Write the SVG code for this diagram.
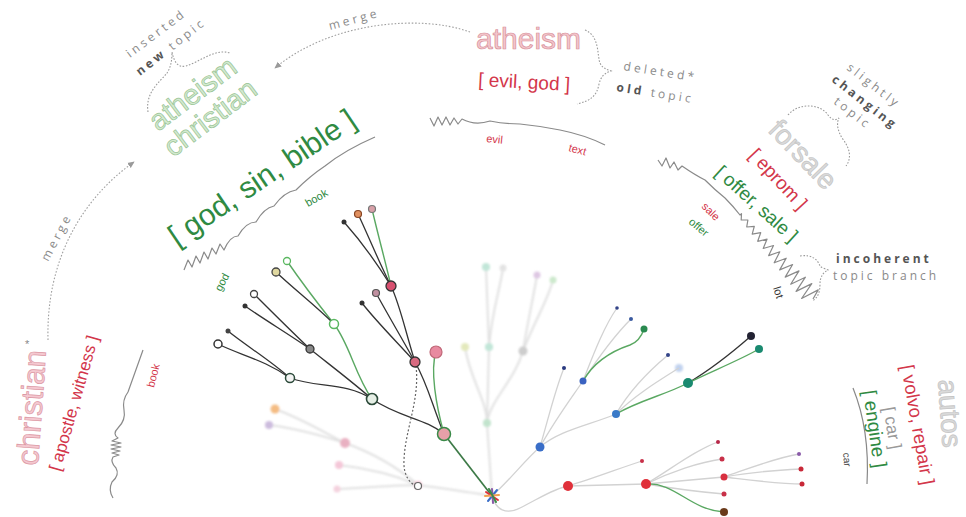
<svg xmlns="http://www.w3.org/2000/svg" width="966" height="517" viewBox="0 0 966 517">
<defs>
<style>
text{font-family:"Liberation Sans",Arial,sans-serif}
.ann{font-family:"Open Sans","Liberation Sans",sans-serif;font-size:12px;letter-spacing:3.2px;fill:#8a8a8a}
.annb{font-weight:bold;fill:#555}
.brace{fill:none;stroke:#9a9a9a;stroke-width:1.1;stroke-dasharray:1.6 1.6}
.mrg{fill:none;stroke:#a0a0a0;stroke-width:1.1;stroke-dasharray:1.6 1.8}
.wave{fill:none;stroke:#8a8a8a;stroke-width:1.2;stroke-linejoin:round}
.red{fill:#d3364a}
.grn{fill:#2f8a42}
.small{font-size:11px}
.blk{fill:none;stroke:#333;stroke-width:1.3}
.gl{fill:none;stroke:#5aa862;stroke-width:1.4}
.lt{fill:none;stroke:#d2d2d2;stroke-width:1.3}
.fd{fill:none;stroke:#d4d4d4;stroke-width:2}
</style>
<marker id="arr" viewBox="0 0 10 10" refX="8" refY="5" markerWidth="7" markerHeight="7" orient="auto">
<path d="M0,1 L9,5 L0,9 z" fill="#9a9a9a"/>
</marker>
<filter id="blur" x="-20%" y="-20%" width="140%" height="140%"><feGaussianBlur stdDeviation="1.3"/></filter>
</defs>
<rect width="966" height="517" fill="#fff"/>

<!-- merge connectors -->
<g id="connectors-merge">
<path class="mrg" d="M470,32 C 420,14 330,22 275,68" marker-end="url(#arr)"/>
<path class="mrg" d="M48,340 C 46,262 80,200 134,162" marker-end="url(#arr)"/>
</g>

<!-- annotations -->
<g id="ann-merge-top"><text class="ann" transform="translate(330,30) rotate(-15)">merge</text></g>
<g id="ann-merge-left"><text class="ann" transform="translate(48,262) rotate(-62)">merge</text></g>

<g id="topic-atheism-old">
<text transform="translate(476,49)" font-size="30" fill="#f3c6cc" stroke="#d8909a" stroke-width="0.7">atheism</text>
<text class="red" transform="translate(478,86) rotate(3)" font-size="19">[ evil, god ]</text>
<path class="brace" d="M585,30 C 600,36 597,56 600,63 C 602,68 606,69 611,71 C 605,73 601,76 599,84 C 597,96 590,101 577,104"/>
<text class="ann" transform="translate(623,70) rotate(9)">deleted*</text>
<text class="ann" transform="translate(616,91) rotate(9)"><tspan class="annb">old</tspan> topic</text>
</g>

<g id="topic-inserted">
<text class="ann" transform="translate(130,58) rotate(-37)">inserted</text>
<text class="ann" transform="translate(140,76) rotate(-38)"><tspan class="annb">new</tspan> topic</text>
<path class="brace" d="M148,112 C 145,92 160,82 167,73 C 171,67 172,60 172,52 C 174,62 178,68 186,66 C 200,62 215,48 230,53"/>
<text transform="translate(158,132) rotate(-37)" font-size="29" fill="#d4ead0" stroke="#98c494" stroke-width="0.7">atheism</text>
<text transform="translate(173,158) rotate(-37)" font-size="29" fill="#d4ead0" stroke="#98c494" stroke-width="0.7">christian</text>
</g>

<g id="label-god-sin-bible">
<text class="grn" transform="translate(177,247) rotate(-34)" font-size="30">[ god, sin, bible ]</text>
<path class="wave" d="M184,270 L188,260 L192,267 L196,256 L200,263 L204,252 L208,259 L212,248 L216,254 L220,244 L224,250 Q 230,236 238,236 Q 246,222 256,222 Q 264,208 274,206 Q 284,192 296,190 Q 310,176 325,166 Q 345,150 375,137"/>
<text class="grn small" transform="translate(308,207) rotate(-30)">book</text>
<text class="grn small" transform="translate(221,292) rotate(-62)">god</text>
</g>

<g id="label-evil-text">
<path class="wave" d="M430,118 L434,126 L438,117 L442,125 L446,117 L450,125 L454,118 L458,124 L462,119 Q 475,126 490,121 Q 505,124 520,124 Q 540,126 560,130 Q 585,135 605,145"/>
<text class="red small" transform="translate(486,142) rotate(6)">evil</text>
<text class="red small" transform="translate(568,151) rotate(15)">text</text>
</g>

<g id="topic-forsale">
<text transform="translate(767,131) rotate(46)" font-size="28" fill="#dadada" stroke="#c4c4c4" stroke-width="0.7">forsale</text>
<path class="brace" d="M788,115 C 800,101 822,105 828,115 C 832,120 835,121 839,118 C 836,124 838,131 842,138 C 850,148 852,158 846,166"/>
<text class="ann" transform="translate(846,69) rotate(38)">slightly</text>
<text class="ann annb" transform="translate(831,81) rotate(38)">changing</text>
<text class="ann" transform="translate(833,103) rotate(38)">topic</text>
<text class="red" transform="translate(748,156) rotate(47)" font-size="19">[ eprom ]</text>
<text class="grn" transform="translate(714,174) rotate(42)" font-size="19">[ offer, sale ]</text>
<path class="wave" d="M658,160 L662,166 L666,158 L670,168 L674,162 L678,170 L682,166 Q 695,175 705,180 Q 715,190 725,198 Q 733,206 740,215 L741.5,213.7 L741.2,219.9 L747.9,220 L746.7,227 L754.3,226.4 L752.2,234.2 L760.7,232.7 L757.7,241.3 L767.1,239.1 L763.2,248.5 L773.5,245.5 L768.7,255.6 L779.8,251.8 L774.2,262.8 L786.2,258.2 L779.7,269.9 L792.6,264.5 L785.2,277.1 L799,270.9 L790.7,284.2 L805.4,277.2 L796.1,291.4 L811.8,283.6 L801.6,298.5 L818.2,289.9 L813,299"/>
<text class="red small" transform="translate(701,207) rotate(45)">sale</text>
<text class="grn small" transform="translate(688,223) rotate(40)">offer</text>
<text class="small" transform="translate(773,288) rotate(72)" fill="#333">lot</text>
<path class="brace" d="M800,256 C 812,254 818,260 820,266 C 822,268 826,269 828,270 C 824,272 820,276 820,284 C 820,292 818,298 812,301"/>
<text class="ann annb" transform="translate(836,263)" style="letter-spacing:3px">incoherent</text>
<text class="ann" transform="translate(833,280)" style="letter-spacing:3px">topic branch</text>
</g>

<g id="topic-christian">
<text transform="translate(38,466) rotate(-86)" font-size="31" fill="#f4c8d0" stroke="#dc98a4" stroke-width="0.7">christian</text>
<text transform="translate(25,348)" font-size="11" fill="#888">*</text>
<text class="red" transform="translate(60,472) rotate(-74)" font-size="17">[ apostle, witness ]</text>
<path class="wave" d="M143,350 L128,392 Q 122,400 124,410 Q 126,420 118,428 Q 112,434 118,438 L112,441 L121,443 L111,445 L121,447 L111,449 L120,451 L112,453 L119,455 L113,457 Q 110,462 116,468 Q 120,475 112,482 Q 108,490 113,498"/>
<text class="red small" transform="translate(154,388) rotate(-76)">book</text>
</g>

<g id="topic-autos">
<text transform="translate(938,380) rotate(86)" font-size="28" fill="#dadada" stroke="#c4c4c4" stroke-width="0.7">autos</text>
<text class="red" transform="translate(901,366) rotate(80)" font-size="18.5">[ volvo, repair ]</text>
<text transform="translate(883,408) rotate(80)" font-size="17" fill="#999">[ car ]</text>
<text class="grn" transform="translate(863,391) rotate(82)" font-size="19">[ engine ]</text>
<path d="M853,388 Q 870,430 867,484" fill="none" stroke="#888" stroke-width="1.2"/>
<text transform="translate(843,453) rotate(85)" font-size="10" fill="#444">car</text>
</g>

<!-- faded trees -->
<g id="tree-faded" filter="url(#blur)" opacity="0.7">
<g id="faded-edges">
<path class="fd" d="M492,496 C 470,492 440,488 418,485"/>
<path class="fd" d="M418,485 C 395,465 370,452 345,443"/>
<path class="fd" d="M418,485 C 395,475 365,468 339,465"/>
<path class="fd" d="M418,485 C 395,485 365,488 337,489"/>
<path class="fd" d="M345,443 C 320,430 300,418 275,409"/>
<path class="fd" d="M345,443 C 320,435 295,428 269,425"/>
<path class="fd" d="M492,496 L487,423"/>
<path class="fd" d="M487,423 C 487,400 470,380 465,347"/>
<path class="fd" d="M487,423 L489,347"/>
<path class="fd" d="M487,423 C 490,400 515,380 523,351"/>
<path class="fd" d="M489,347 L486,267"/>
<path class="fd" d="M489,347 C 492,310 500,290 503,268"/>
<path class="fd" d="M523,351 C 528,320 533,300 537,275"/>
<path class="fd" d="M523,351 C 535,320 548,300 553,280"/>
</g>
<g id="faded-nodes">
<circle cx="418" cy="485" r="4" fill="#f0a8c0"/>
<circle cx="345" cy="443" r="5" fill="#e090a8"/>
<circle cx="275" cy="409" r="4.5" fill="#f0a050"/>
<circle cx="269" cy="425" r="4" fill="#b8a0d0"/>
<circle cx="339" cy="465" r="4" fill="#f0b0c8"/>
<circle cx="337" cy="489" r="3.5" fill="#f0c0d0"/>
<circle cx="487" cy="423" r="4" fill="#a8d8b8"/>
<circle cx="465" cy="347" r="4" fill="#d8e0a0"/>
<circle cx="489" cy="347" r="4" fill="#a8dcc8"/>
<circle cx="523" cy="351" r="4.5" fill="#b8b8b8"/>
<circle cx="486" cy="267" r="4" fill="#a8dcc8"/>
<circle cx="503" cy="268" r="3.5" fill="#d8d8d8"/>
<circle cx="537" cy="275" r="3.5" fill="#d0b0d8"/>
<circle cx="553" cy="280" r="3.5" fill="#b8e0b8"/>
<circle cx="679" cy="368" r="4" fill="#a8c0e8"/>
</g>
</g>

<!-- connectors of the trees -->
<g id="connectors">
<path class="lt" d="M492,496 C 510,480 525,460 540,447"/>
<path class="lt" d="M540,447 C 555,420 570,400 583,381"/>
<path class="lt" d="M540,447 C 548,420 555,390 564,368"/>
<path class="lt" d="M540,447 C 560,430 590,425 616,414"/>
<path class="lt" d="M583,381 C 595,350 605,325 617,308"/>
<path class="lt" d="M583,381 C 600,355 615,335 631,319"/>
<path class="gl" d="M583,381 C 595,360 615,350 630,345 C 638,342 642,335 644,329" stroke="#3d8a4a"/>
<path class="lt" d="M616,414 C 630,390 650,370 668,355"/>
<path class="lt" d="M616,414 C 635,395 660,380 679,368"/>
<path class="gl" d="M616,414 C 640,400 665,395 688,383" stroke="#3d8a4a"/>
<path class="blk" d="M688,383 C 710,370 735,350 751,336"/>
<path class="gl" d="M688,383 C 710,372 740,360 759,349" stroke="#3d8a4a"/>

<path class="lt" d="M492,496 C 496,510 506,515 520,508 C 540,498 555,488 568,486"/>
<path class="lt" d="M568,486 C 595,478 620,468 642,461"/>
<path class="lt" d="M568,486 L646,484"/>
<path class="lt" d="M646,484 C 670,470 695,450 718,442"/>
<path class="lt" d="M646,484 C 670,472 700,462 722,459"/>
<path class="lt" d="M646,484 L724,477"/>
<path class="lt" d="M646,484 C 670,488 700,492 724,494"/>
<path class="gl" d="M646,484 C 675,482 690,510 724,512" stroke="#3d8a4a"/>
<path class="lt" d="M724,477 C 750,468 775,458 799,454"/>
<path class="lt" d="M724,477 C 750,472 780,470 801,469"/>
<path class="lt" d="M724,477 C 750,480 780,484 802,484"/>

<path d="M492,496 L444,434" fill="none" stroke="#3d7a47" stroke-width="1.7"/>
<path class="blk" d="M444,434 C 425,418 400,418 372,399"/>
<path class="blk" d="M444,434 C 432,405 428,385 415,362"/>
<path class="gl" d="M444,434 C 436,405 430,370 436,352"/>
<path class="blk" d="M372,399 C 345,382 318,388 290,378"/>
<path class="blk" d="M372,399 C 350,380 330,365 310,349"/>
<path class="gl" d="M372,399 C 355,375 350,345 334,324"/>
<path class="blk" d="M290,378 C 265,360 240,355 218,344"/>
<path class="blk" d="M290,378 C 270,360 245,345 228,331"/>
<path class="blk" d="M310,349 C 290,330 270,310 254,294"/>
<path class="blk" d="M310,349 C 290,335 265,320 245,306"/>
<path class="gl" d="M334,324 C 315,300 300,280 287,261"/>
<path class="blk" d="M334,324 C 315,305 295,290 276,272"/>
<path class="blk" d="M415,362 C 405,330 400,305 391,286"/>
<path class="blk" d="M415,362 C 400,335 388,315 376,293"/>
<path class="blk" d="M415,362 C 395,340 375,320 362,303"/>
<path class="blk" d="M391,286 C 375,260 360,240 344,222"/>
<path class="blk" d="M391,286 C 378,260 368,235 358,214"/>
<path class="gl" d="M391,286 C 385,260 378,235 372,209"/>
<path d="M416,366 C 420,400 405,430 404,460 C 403,475 410,485 418,486" fill="none" stroke="#666" stroke-width="1.2" stroke-dasharray="2 2"/>
</g>

<!-- nodes -->
<g id="nodes-left">
<circle id="nA" cx="444" cy="434" r="6.5" fill="#e6a0a8" stroke="#3a8a48" stroke-width="1.5"/>
<circle id="nB" cx="372" cy="399" r="5.5" fill="#e6efe6" stroke="#2c4a3a" stroke-width="1.6"/>
<circle id="nC" cx="415" cy="362" r="5" fill="#d86a80" stroke="#333" stroke-width="1.3"/>
<circle id="nD" cx="436" cy="352" r="6" fill="#e88aa0" stroke="#c06878" stroke-width="1.2"/>
<circle id="nE" cx="290" cy="378" r="4.5" fill="#f4f4f4" stroke="#2c4a3a" stroke-width="1.5"/>
<circle id="nF" cx="334" cy="324" r="4.5" fill="#fff" stroke="#5ab860" stroke-width="1.5"/>
<circle id="nG" cx="310" cy="349" r="4" fill="#888" stroke="#333" stroke-width="1.3"/>
<circle id="nH" cx="391" cy="286" r="5" fill="#d85070" stroke="#333" stroke-width="1.3"/>
<circle cx="218" cy="344" r="4" fill="#fff" stroke="#333" stroke-width="1.5"/>
<circle cx="228" cy="331" r="2.5" fill="#444"/>
<circle cx="254" cy="294" r="3.5" fill="#fff" stroke="#444" stroke-width="1.3"/>
<circle cx="245" cy="306" r="2.5" fill="#333"/>
<circle cx="287" cy="261" r="3.5" fill="#fff" stroke="#5ab860" stroke-width="1.3"/>
<circle cx="276" cy="272" r="4" fill="#e0d8a0" stroke="#444" stroke-width="1.3"/>
<circle cx="376" cy="293" r="3.5" fill="#c090a0" stroke="#555" stroke-width="1.2"/>
<circle cx="362" cy="303" r="2.5" fill="#333"/>
<circle cx="344" cy="222" r="2.5" fill="#333"/>
<circle cx="358" cy="214" r="3.5" fill="#e09060" stroke="#884422" stroke-width="1.2"/>
<circle cx="372" cy="209" r="3.5" fill="#d8a0a8" stroke="#777" stroke-width="1.2"/>
<circle cx="418" cy="486" r="3.5" fill="#fff" stroke="#666" stroke-width="1.2"/>
</g>
<g id="nodes-blue">
<circle cx="540" cy="447" r="4.5" fill="#3a6ec8"/>
<circle cx="583" cy="381" r="3.5" fill="#3a62c0"/>
<circle cx="564" cy="368" r="2" fill="#2a3a80"/>
<circle cx="617" cy="308" r="1.8" fill="#334488"/>
<circle cx="631" cy="319" r="2" fill="#3a5aa0"/>
<circle cx="644" cy="329" r="3.5" fill="#2a8a50"/>
<circle cx="616" cy="414" r="4" fill="#3a7ac8"/>
<circle cx="668" cy="355" r="2" fill="#334488"/>
<circle cx="688" cy="383" r="5" fill="#1a8a70"/>
<circle cx="751" cy="336" r="4" fill="#223"/>
<circle cx="759" cy="349" r="4" fill="#1a8a70"/>
</g>
<g id="nodes-red">
<circle cx="568" cy="486" r="5" fill="#e0303a"/>
<circle cx="642" cy="461" r="2" fill="#c83048"/>
<circle cx="646" cy="484" r="5" fill="#e0303a"/>
<circle cx="718" cy="442" r="2" fill="#b82848"/>
<circle cx="722" cy="459" r="2.5" fill="#c83048"/>
<circle cx="724" cy="477" r="3.5" fill="#d83040"/>
<circle cx="724" cy="494" r="2.5" fill="#c83048"/>
<circle cx="724" cy="512" r="4" fill="#6a3a1a"/>
<circle cx="799" cy="454" r="2" fill="#8a5aa8"/>
<circle cx="801" cy="469" r="2.5" fill="#c82838"/>
<circle cx="802" cy="484" r="2.5" fill="#c82838"/>
</g>
<g id="node-root" stroke-width="2" stroke-linecap="round">
<line x1="486" y1="492" x2="498" y2="500" stroke="#e0303a"/>
<line x1="488" y1="501" x2="497" y2="490" stroke="#3a6ec8"/>
<line x1="492" y1="489" x2="493" y2="503" stroke="#8a5aa8"/>
<line x1="485" y1="496" x2="499" y2="495" stroke="#f0a050"/>
<line x1="489" y1="489" x2="496" y2="502" stroke="#3d8a4a"/>
</g>
</svg>
